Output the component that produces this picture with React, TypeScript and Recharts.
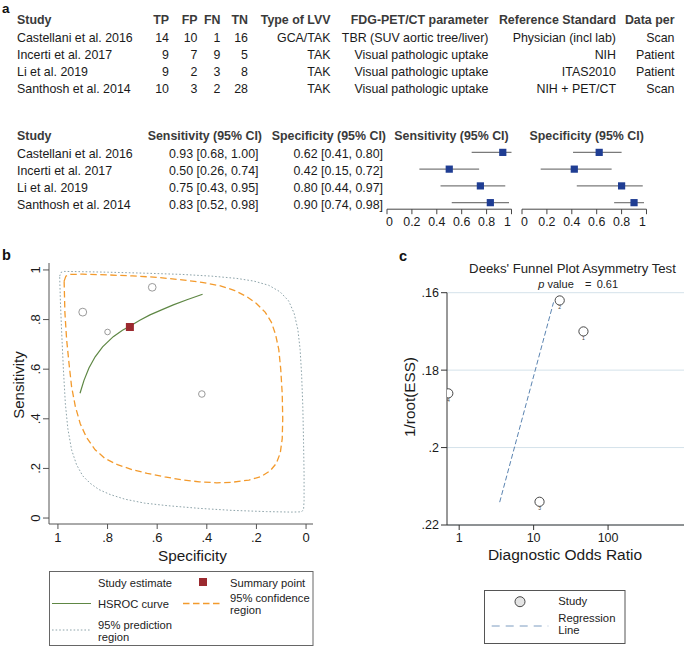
import React from 'react';
import { ComposedChart, ScatterChart, Scatter, XAxis, YAxis, ErrorBar, CartesianGrid } from 'recharts';

const FONT = '"Liberation Sans", Arial, Helvetica, sans-serif';

// ---------- panel a : study table ----------
const studies = ['Castellani et al. 2016', 'Incerti et al. 2017', 'Li et al. 2019', 'Santhosh et al. 2014'];
const tp = [14, 9, 9, 10];
const fp = [10, 7, 2, 3];
const fn = [1, 9, 3, 2];
const tn = [16, 5, 8, 28];
const lvvType = ['GCA/TAK', 'TAK', 'TAK', 'TAK'];
const petParam = ['TBR (SUV aortic tree/liver)', 'Visual pathologic uptake', 'Visual pathologic uptake', 'Visual pathologic uptake'];
const refStandard = ['Physician (incl lab)', 'NIH', 'ITAS2010', 'NIH + PET/CT'];
const dataPer = ['Scan', 'Patient', 'Patient', 'Scan'];
const tableHeaders = ['Study', 'TP', 'FP', 'FN', 'TN', 'Type of LVV', 'FDG-PET/CT parameter', 'Reference Standard', 'Data per'];

// ---------- panel a : forest ----------
const sens = [0.93, 0.5, 0.75, 0.83];
const sensLo = [0.68, 0.26, 0.43, 0.52];
const sensHi = [1.0, 0.74, 0.95, 0.98];
const spec = [0.62, 0.42, 0.8, 0.9];
const specLo = [0.41, 0.15, 0.44, 0.74];
const specHi = [0.8, 0.72, 0.97, 0.98];
const forestHeaders = ['Study', 'Sensitivity (95% CI)', 'Specificity (95% CI)', 'Sensitivity (95% CI)', 'Specificity (95% CI)'];
const forestTicks = [0, 0.2, 0.4, 0.6, 0.8, 1];

// ---------- panel b : SROC ----------
const srocTicks = [0, 0.2, 0.4, 0.6, 0.8, 1];
const summarySpec = 0.71;
const summarySens = 0.77;
const hsrocCurve: [number, number][] = [
  [0.911, 0.503], [0.895, 0.555], [0.875, 0.605], [0.85, 0.65], [0.82, 0.69], [0.777, 0.731],
  [0.74, 0.757], [0.707, 0.775], [0.67, 0.797], [0.629, 0.819], [0.58, 0.84], [0.535, 0.859],
  [0.48, 0.88], [0.417, 0.902],
];
const confRegion: [number, number][] = [
  [0.975, 0.955], [0.968, 0.975], [0.95, 0.982], [0.9, 0.983], [0.8, 0.98], [0.7, 0.976], [0.6, 0.97],
  [0.5, 0.96], [0.42, 0.95], [0.35, 0.937], [0.29, 0.918], [0.24, 0.893], [0.2, 0.865], [0.165, 0.83],
  [0.14, 0.79], [0.123, 0.74], [0.11, 0.68], [0.102, 0.6], [0.096, 0.5], [0.094, 0.4], [0.096, 0.32],
  [0.104, 0.262], [0.12, 0.22], [0.145, 0.19], [0.18, 0.168], [0.23, 0.153], [0.3, 0.144], [0.36, 0.142],
  [0.43, 0.146], [0.5, 0.154], [0.57, 0.166], [0.64, 0.18], [0.7, 0.195], [0.76, 0.215], [0.81, 0.24],
  [0.85, 0.275], [0.885, 0.325], [0.91, 0.38], [0.93, 0.45], [0.945, 0.53], [0.955, 0.62], [0.965, 0.72],
  [0.972, 0.83], [0.975, 0.955],
];
const predRegion: [number, number][] = [
  [0.993, 0.975], [0.988, 0.99], [0.975, 0.994], [0.9, 0.993], [0.8, 0.991], [0.65, 0.987], [0.5, 0.982],
  [0.38, 0.975], [0.28, 0.966], [0.21, 0.955], [0.15, 0.938], [0.105, 0.912], [0.07, 0.875], [0.048, 0.825],
  [0.033, 0.76], [0.024, 0.68], [0.018, 0.58], [0.013, 0.45], [0.01, 0.3], [0.008, 0.18], [0.008, 0.07],
  [0.01, 0.035], [0.018, 0.025], [0.06, 0.024], [0.16, 0.026], [0.3, 0.031], [0.43, 0.039], [0.56, 0.05],
  [0.65, 0.06], [0.73, 0.076], [0.79, 0.095], [0.835, 0.115], [0.87, 0.14], [0.9, 0.17], [0.925, 0.215],
  [0.945, 0.275], [0.96, 0.36], [0.97, 0.46], [0.978, 0.6], [0.985, 0.75], [0.99, 0.87], [0.993, 0.975],
];

// ---------- panel c : Deeks funnel ----------
const dor = [22.4, 0.714, 12, 46.7];
const invRootEss = [0.162, 0.186, 0.214, 0.17];
const funnelIds = ['2', '4', '3', '1'];
const regDor = [3.5, 18.5];
const regInvRootEss = [0.2141, 0.1625];
const funnelYTicks = [0.16, 0.18, 0.2, 0.22];
const funnelXTicks = [1, 10, 100];
const pValue = '0.61';

const stataFmt = (v: number) => (v === 0 ? '0' : v === 1 ? '1' : String(v).replace(/^0/, ''));

const Empty = () => <g />;

const ForestSquare = (p: any) => <rect x={p.cx - 3.6} y={p.cy - 3.6} width={7.2} height={7.2} fill="#1f3d93" />;

const ForestTick = (p: any) => {
  const v = p.payload.value;
  const dx = v === 0 ? 2.5 : v === 1 ? -4 : 0;
  return (
    <text x={p.x + dx} y={p.y} dy="0.71em" textAnchor="middle" fontSize={12.4} fill="#1a1a1a" fontFamily={FONT}>
      {String(v)}
    </text>
  );
};

function Forest({ left, width, est, lo, hi }: any) {
  const data = est.map((v: number, i: number) => ({ x: v, row: i, err: [v - lo[i], hi[i] - v] }));
  return (
    <div style={{ position: 'absolute', left: left - 10, top: 134.1 }}>
      <ScatterChart width={width + 20} height={101.2} margin={{ top: 10, right: 10, bottom: 6, left: 10 }}>
        <XAxis
          type="number"
          dataKey="x"
          domain={[0, 1]}
          ticks={forestTicks}
          height={20}
          tickSize={5}
          tickMargin={3}
          interval={0}
          axisLine={{ stroke: '#444' }}
          tickLine={{ stroke: '#444' }}
          tick={<ForestTick />}
        />
        <YAxis type="number" dataKey="row" domain={[-0.5, 3.39]} reversed hide />
        <Scatter data={data} shape={ForestSquare} isAnimationActive={false}>
          <ErrorBar dataKey="err" direction="x" width={0} stroke="#7a7a7a" strokeWidth={1.2} />
        </Scatter>
      </ScatterChart>
    </div>
  );
}

const RotTick = (p: any) => {
  const x = p.x - 1;
  return (
    <text x={x} y={p.y} transform={`rotate(-90 ${x} ${p.y})`} textAnchor="middle" fontSize={13} fill="#1a1a1a" fontFamily={FONT}>
      {stataFmt(p.payload.value)}
    </text>
  );
};

const StudyCircle = (p: any) => (
  <circle cx={p.cx} cy={p.cy} r={0.6 * Math.sqrt(p.payload.n)} fill="none" stroke="#9a9a9a" strokeWidth={1} />
);
const SummarySquare = (p: any) => <rect x={p.cx - 4} y={p.cy - 4} width={8} height={8} fill="#9b2a2f" />;

const FunnelPoint = (p: any) => (
  <g>
    <circle cx={p.cx} cy={p.cy} r={4.6} fill="#ffffff" stroke="#333" strokeWidth={0.9} />
    <text x={p.cx} y={p.cy + 8.5} textAnchor="middle" fontSize={5} fill="#444" fontFamily={FONT}>
      {p.payload.id}
    </text>
  </g>
);

function SrocChart() {
  const toPts = (arr: [number, number][]) => arr.map(([s, e]) => ({ spec: s, sens: e }));
  const studyData = spec.map((s, i) => ({ spec: s, sens: sens[i], n: tp[i] + fp[i] + fn[i] + tn[i] }));
  return (
    <div style={{ position: 'absolute', left: 0, top: 240 }}>
      <ComposedChart width={340} height={330} margin={{ top: 23, right: 27, bottom: 0, left: 0 }}>
        <XAxis
          type="number"
          dataKey="spec"
          domain={[-0.028, 1.036]}
          reversed
          ticks={srocTicks}
          interval={0}
          tickFormatter={stataFmt}
          height={46}
          tickSize={5}
          tickMargin={4}
          axisLine={{ stroke: '#555' }}
          tickLine={{ stroke: '#555' }}
          tick={{ fontSize: 13, fill: '#1a1a1a', fontFamily: FONT }}
        />
        <YAxis
          type="number"
          dataKey="sens"
          domain={[-0.024, 1.028]}
          ticks={srocTicks}
          interval={0}
          width={49}
          tickSize={6}
          tickMargin={2}
          axisLine={{ stroke: '#555' }}
          tickLine={{ stroke: '#555' }}
          tick={<RotTick />}
        />
        <Scatter data={toPts(predRegion)} shape={Empty} line={{ stroke: '#8ea4aa', strokeWidth: 1, strokeDasharray: '1.6 2' }} isAnimationActive={false} />
        <Scatter data={toPts(confRegion)} shape={Empty} line={{ stroke: '#f39a2c', strokeWidth: 1.3, strokeDasharray: '6.5 3.5' }} isAnimationActive={false} />
        <Scatter data={toPts(hsrocCurve)} shape={Empty} line={{ stroke: '#5e8744', strokeWidth: 1.2 }} isAnimationActive={false} />
        <Scatter data={studyData} shape={StudyCircle} isAnimationActive={false} />
        <Scatter data={[{ spec: summarySpec, sens: summarySens }]} shape={SummarySquare} isAnimationActive={false} />
      </ComposedChart>
    </div>
  );
}

function FunnelChart() {
  const pts = dor.map((d, i) => ({ dor: d, ess: invRootEss[i], id: funnelIds[i] }));
  const reg = regDor.map((d, i) => ({ dor: d, ess: regInvRootEss[i] }));
  return (
    <div style={{ position: 'absolute', left: 340, top: 270 }}>
      <ComposedChart width={344} height={300} margin={{ top: 22.7, right: 0, bottom: 0, left: 0 }}>
        <CartesianGrid horizontal vertical={false} stroke="#d4e2ea" strokeWidth={1} />
        <XAxis
          type="number"
          dataKey="dor"
          scale="log"
          domain={[0.686, 1047]}
          allowDataOverflow
          ticks={funnelXTicks}
          interval={0}
          height={45}
          tickSize={5}
          tickMargin={3}
          axisLine={{ stroke: '#333' }}
          tickLine={{ stroke: '#333' }}
          tick={{ fontSize: 12.5, fill: '#1a1a1a', fontFamily: FONT }}
        />
        <YAxis
          type="number"
          dataKey="ess"
          domain={[0.16, 0.22]}
          reversed
          ticks={funnelYTicks}
          interval={0}
          tickFormatter={stataFmt}
          width={107}
          tickSize={6}
          tickMargin={2}
          axisLine={{ stroke: '#333' }}
          tickLine={{ stroke: '#333' }}
          tick={{ fontSize: 12.5, fill: '#1a1a1a', fontFamily: FONT }}
        />
        <Scatter data={reg} shape={Empty} line={{ stroke: '#5a83b0', strokeWidth: 1, strokeDasharray: '5 2.5' }} isAnimationActive={false} />
        <Scatter data={pts} shape={FunnelPoint} isAnimationActive={false} />
      </ComposedChart>
    </div>
  );
}

const T = ({ x, y, children, anchor = 'start', size = 12.4, weight = 'normal', fill = '#1a1a1a', style, transform }: any) => (
  <text x={x} y={y} textAnchor={anchor} dominantBaseline="central" fontSize={size} fontWeight={weight} fill={fill} fontFamily={FONT} style={style} transform={transform}>
    {children}
  </text>
);

function Overlay() {
  const colX = [17, 169, 197.5, 220.5, 248, 330.5, 488.5, 616, 674.5];
  const colA = ['start', 'end', 'end', 'end', 'end', 'end', 'end', 'end', 'end'];
  const rowY = [37.8, 54.8, 71.6, 88.5];
  const tableRows = studies.map((s, i) => [s, tp[i], fp[i], fn[i], tn[i], lvvType[i], petParam[i], refStandard[i], dataPer[i]]);
  const fRowY = [153.7, 171, 187.7, 204.5];
  const fHeadX = [17, 262, 386, 451.5, 586.7];
  const fHeadA = ['start', 'end', 'end', 'middle', 'middle'];
  const ci = (e: number, l: number, h: number) => `${e.toFixed(2)} [${l.toFixed(2)}, ${h.toFixed(2)}]`;
  return (
    <svg width={684} height={647} style={{ position: 'absolute', left: 0, top: 0, pointerEvents: 'none' }}>
      {/* panel labels */}
      <text x={2} y={13} fontSize={13.5} fontWeight="bold" fill="#111" fontFamily={FONT}>a</text>
      <text x={2} y={260} fontSize={14.5} fontWeight="bold" fill="#111" fontFamily={FONT}>b</text>
      <text x={399} y={260.7} fontSize={14.5} fontWeight="bold" fill="#111" fontFamily={FONT}>c</text>

      {/* table a */}
      {tableHeaders.map((h, j) => (
        <T key={'h' + j} x={colX[j]} y={20} anchor={colA[j]} weight="bold" fill="#3a3a3a">{h}</T>
      ))}
      {tableRows.map((r, i) =>
        r.map((c, j) => (
          <T key={'r' + i + '_' + j} x={colX[j]} y={rowY[i]} anchor={colA[j]}>{String(c)}</T>
        ))
      )}

      {/* forest table */}
      {forestHeaders.map((h, j) => (
        <T key={'fh' + j} x={fHeadX[j]} y={136} anchor={fHeadA[j]} weight="bold" fill="#3a3a3a">{h}</T>
      ))}
      {studies.map((s, i) => (
        <g key={'fr' + i}>
          <T x={17} y={fRowY[i]}>{s}</T>
          <T x={258.5} y={fRowY[i]} anchor="end">{ci(sens[i], sensLo[i], sensHi[i])}</T>
          <T x={383} y={fRowY[i]} anchor="end">{ci(spec[i], specLo[i], specHi[i])}</T>
        </g>
      ))}

      {/* panel b axis titles */}
      <T x={18} y={385} anchor="middle" size={15} transform="rotate(-90 18 385)">Sensitivity</T>
      <T x={192.5} y={555.5} anchor="middle" size={15.3}>Specificity</T>

      {/* panel b legend */}
      <rect x={49.5} y={571.5} width={263.5} height={74} fill="none" stroke="#666" strokeWidth={1} />
      <T x={98} y={583} size={11.2} fill="#222">Study estimate</T>
      <rect x={199} y={578} width={8} height={8} fill="#9b2a2f" />
      <T x={230} y={583} size={11.2} fill="#222">Summary point</T>
      <line x1={52} y1={603.5} x2={91} y2={603.5} stroke="#5e8744" strokeWidth={1.2} />
      <T x={98} y={604.3} size={11.2} fill="#222">HSROC curve</T>
      <line x1={183} y1={603.5} x2={220} y2={603.5} stroke="#f39a2c" strokeWidth={1.3} strokeDasharray="6.5 3.5" />
      <T x={230} y={598.3} size={11.2} fill="#222">95% confidence</T>
      <T x={230} y={609.8} size={11.2} fill="#222">region</T>
      <line x1={52} y1={630} x2={91} y2={630} stroke="#8ea4aa" strokeWidth={1} strokeDasharray="1.6 2" />
      <T x={98} y={625} size={11.2} fill="#222">95% prediction</T>
      <T x={98} y={636.5} size={11.2} fill="#222">region</T>

      {/* panel c titles */}
      <T x={572.5} y={268} anchor="middle" size={13.2} fill="#222">Deeks' Funnel Plot Asymmetry Test</T>
      <T x={538.3} y={284} size={11} fill="#222"><tspan fontStyle="italic">p</tspan> value</T>
      <T x={585} y={284} size={11} fill="#222">=</T>
      <T x={596.7} y={284} size={11} fill="#222">{pValue}</T>
      <T x={409} y={397} anchor="middle" size={15.3} transform="rotate(-90 409 397)">1/root(ESS)</T>
      <T x={565} y={554.7} anchor="middle" size={15.5}>Diagnostic Odds Ratio</T>

      {/* panel c legend */}
      <rect x={484.5} y={590.5} width={140.5} height={53} fill="none" stroke="#555" strokeWidth={1} />
      <circle cx={520} cy={601.7} r={5} fill="#e4e4e4" stroke="#333" strokeWidth={0.9} />
      <T x={558.3} y={600.5} size={11.3} fill="#222">Study</T>
      <line x1={491.7} y1={626} x2={548.3} y2={626} stroke="#7d9cc0" strokeWidth={1} strokeDasharray="8 6" />
      <T x={558.3} y={618.3} size={11.3} fill="#222">Regression</T>
      <T x={558.3} y={629.5} size={11.3} fill="#222">Line</T>
    </svg>
  );
}

export default function App() {
  return (
    <div style={{ position: 'absolute', left: 0, top: 0, width: 684, height: 647, background: '#fff', overflow: 'hidden', fontFamily: FONT }}>
      <Forest left={387.3} width={124.5} est={sens} lo={sensLo} hi={sensHi} />
      <Forest left={522} width={124.5} est={spec} lo={specLo} hi={specHi} />
      <SrocChart />
      <FunnelChart />
      <Overlay />
    </div>
  );
}
